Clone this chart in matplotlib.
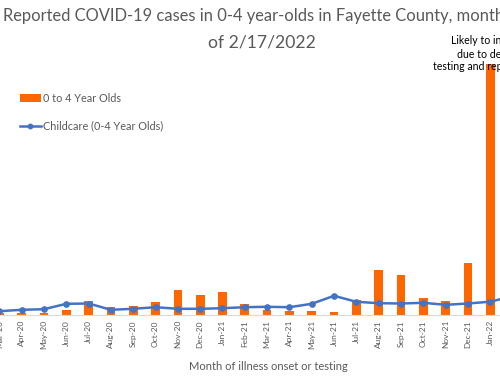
import matplotlib
matplotlib.use("Agg")
import matplotlib.pyplot as plt
import numpy as np
from matplotlib.patches import Patch
from matplotlib.lines import Line2D

plt.rcParams['font.family'] = ['Lato', 'DejaVu Sans']

months = ["Mar-20", "Apr-20", "May-20", "Jun-20", "Jul-20", "Aug-20", "Sep-20", "Oct-20",
          "Nov-20", "Dec-20", "Jan-21", "Feb-21", "Mar-21", "Apr-21", "May-21", "Jun-21",
          "Jul-21", "Aug-21", "Sep-21", "Oct-21", "Nov-21", "Dec-21", "Jan-22", "Feb-22"]
cases_0_4 = [2, 1.3, 1.3, 5, 14, 8, 9, 13, 25, 20, 23, 11, 5, 4, 4, 3,
             15, 45, 40, 17, 14, 52, 251, np.nan]
childcare = [3.3, 4.7, 5.3, 10.7, 11, 4.7, 5.7, 7.3, 5.7, 5.7, 6.3, 7.3, 7.7, 7.3, 10.7, 18.7,
             12.7, 11.3, 11, 11.7, 9.7, 11, 12.8, 18.3]

ORANGE = "#FF6600"
BLUE = "#4472C4"
GRAY = "#595959"

W, H = 500, 379
fig = plt.figure(figsize=(W / 100, H / 100), dpi=100)

# axes placed in pixel terms (chart is cropped on both sides)
spacing = 22.31
x0 = -0.6
left_px = x0 - spacing / 2
right_px = x0 + spacing * 23.5
base_px = 314.5
top_px = 55
ax = fig.add_axes([left_px / W, (H - base_px) / H, (right_px - left_px) / W, (base_px - top_px) / H])

x = np.arange(len(months))
ax.bar(x, cases_0_4, width=0.39, color=ORANGE, zorder=2)
ax.plot(x, childcare, color=BLUE, lw=1.8, marker='o', ms=3.8, zorder=3)

ax.set_xlim(-0.5, 23.5)
ax.set_ylim(0, base_px - top_px)
for s in ['top', 'right', 'left']:
    ax.spines[s].set_visible(False)
ax.spines['bottom'].set_color('#D9D9D9')
ax.spines['bottom'].set_linewidth(0.8)
ax.set_yticks([])
ax.set_xticks(x)
ax.set_xticklabels(months, rotation=90, fontsize=6.0, color=GRAY)
ax.tick_params(axis='x', length=0, pad=4)
ax.patch.set_alpha(0)

# title (cropped on the right)
fig.text(3 / W, 1 - 16 / H, "Reported COVID-19 cases in 0-4 year-olds in Fayette County, monthtly, as",
         ha='left', va='center', fontsize=11.9, color=GRAY)
fig.text(262 / W, 1 - 43 / H, "of 2/17/2022", ha='center', va='center', fontsize=12.6, color=GRAY)

# annotation (cropped)
fig.text(451 / W, 1 - 41 / H, "Likely to increase", ha='left', va='center', fontsize=7.6, color='black')
fig.text(457 / W, 1 - 54 / H, "due to delays in", ha='left', va='center', fontsize=7.6, color='black')
fig.text(433 / W, 1 - 67 / H, "testing and reporting", ha='left', va='center', fontsize=7.6, color='black')

# x-axis title
fig.text(268 / W, 1 - 366 / H, "Month of illness onset or testing", ha='center', va='center',
         fontsize=8.0, color=GRAY)

# legend
handles = [Patch(facecolor=ORANGE, edgecolor='none'),
           Line2D([0], [0], color=BLUE, lw=1.8, marker='o', ms=3.2)]
fig.legend(handles, ["0 to 4 Year Olds", "Childcare (0-4 Year Olds)"],
           loc='upper left', bbox_to_anchor=(20 / W, 1 - 93 / H), frameon=False,
           fontsize=7.8, labelcolor=GRAY, handlelength=1.9, handletextpad=0.2,
           labelspacing=1.55, borderpad=0, borderaxespad=0)

fig.savefig("out.png", dpi=100)
